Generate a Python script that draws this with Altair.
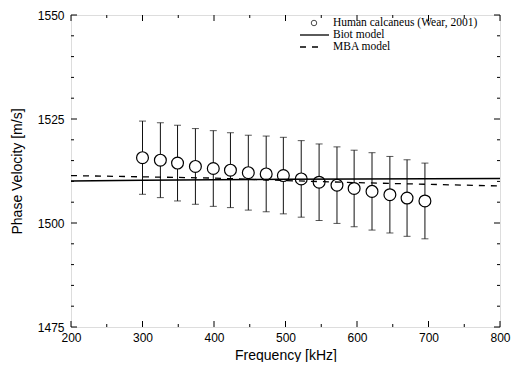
import altair as alt
import pandas as pd

# Measured data (Wear, 2001)
freq = [300, 325, 349, 374, 399, 423, 448, 473, 497, 522, 547, 572, 596, 621, 646, 670, 695]
velocity = [1515.7, 1515.1, 1514.4, 1513.6, 1513.1, 1512.7, 1512.1, 1511.8, 1511.4,
            1510.6, 1509.8, 1509.1, 1508.3, 1507.6, 1506.8, 1506.0, 1505.3]
err = [8.8, 9.0, 9.1, 9.1, 9.1, 9.0, 9.0, 9.1, 9.2, 9.2, 9.2, 9.2, 9.2, 9.3, 9.2, 9.2, 9.1]

# Model curves
model_freq = [200, 300, 400, 500, 600, 700, 800]
biot = [1510.1, 1510.25, 1510.4, 1510.5, 1510.6, 1510.65, 1510.7]
mba = [1511.4, 1511.1, 1510.8, 1510.2, 1509.7, 1509.3, 1508.9]

# Axis ticks
x_major = [200, 300, 400, 500, 600, 700, 800]
x_minor = [250, 350, 450, 550, 650, 750]
y_major = [1475, 1500, 1525, 1550]
y_minor = [1480, 1485, 1490, 1495, 1505, 1510, 1515, 1520, 1530, 1535, 1540, 1545]

legend_labels = ["Human calcaneus (Wear, 2001)", "Biot model", "MBA model"]

W, H = 429, 312

meas = pd.DataFrame({"f": freq, "v": velocity,
                     "lo": [v - e for v, e in zip(velocity, err)],
                     "hi": [v + e for v, e in zip(velocity, err)]})
models = pd.DataFrame({"f": model_freq, "biot": biot, "mba": mba})

xs = alt.Scale(domain=[200, 800], nice=False, zero=False)
ys = alt.Scale(domain=[1475, 1550], nice=False, zero=False)

xaxis = alt.Axis(values=x_major, ticks=False, domain=False, grid=False, format="d",
                 labelFlush=False, labelOverlap=False,
                 labelFont="Liberation Sans", labelFontSize=12, labelColor="black",
                 labelPadding=5, title="Frequency [kHz]", titleFont="Liberation Sans",
                 titleFontSize=14, titleFontWeight="normal", titleColor="black", titlePadding=5)
yaxis = alt.Axis(values=y_major, ticks=False, domain=False, grid=False, format="d",
                 labelFlush=False, labelOverlap=False,
                 labelFont="Liberation Sans", labelFontSize=12, labelColor="black",
                 labelPadding=7, title="Phase Velocity [m/s]", titleFont="Liberation Sans",
                 titleFontSize=14, titleFontWeight="normal", titleColor="black", titlePadding=13)

base = alt.Chart(meas)

bars = base.mark_rule(color="#111", strokeWidth=1).encode(
    x=alt.X("f:Q", scale=xs, axis=xaxis),
    y=alt.Y("lo:Q", scale=ys, axis=yaxis),
    y2="hi:Q")
caps_hi = base.mark_tick(color="#111", orient="horizontal", size=7, thickness=1).encode(
    x=alt.X("f:Q", scale=xs), y=alt.Y("hi:Q", scale=ys))
caps_lo = base.mark_tick(color="#111", orient="horizontal", size=7, thickness=1).encode(
    x=alt.X("f:Q", scale=xs), y=alt.Y("lo:Q", scale=ys))
pts = base.mark_point(shape="circle", size=140, filled=False, fill="white", fillOpacity=1,
                      stroke="black", strokeWidth=1.2).encode(
    x=alt.X("f:Q", scale=xs), y=alt.Y("v:Q", scale=ys))

biot_line = alt.Chart(models).mark_line(color="black", strokeWidth=1.5).encode(
    x=alt.X("f:Q", scale=xs), y=alt.Y("biot:Q", scale=ys))
mba_line = alt.Chart(models).mark_line(color="black", strokeWidth=1.3, strokeDash=[6, 6]).encode(
    x=alt.X("f:Q", scale=xs), y=alt.Y("mba:Q", scale=ys))

# inward ticks on all four sides
xmaj = pd.DataFrame({"t": x_major})
xmin = pd.DataFrame({"t": x_minor})
ymaj = pd.DataFrame({"t": y_major})
ymin = pd.DataFrame({"t": y_minor})

def xticks(df, L):
    b = alt.Chart(df).mark_rule(color="black", strokeWidth=1)
    return (b.encode(x=alt.X("t:Q", scale=xs), y=alt.value(H), y2=alt.value(H - L)) +
            b.encode(x=alt.X("t:Q", scale=xs), y=alt.value(0), y2=alt.value(L)))

def yticks(df, L):
    b = alt.Chart(df).mark_rule(color="black", strokeWidth=1)
    return (b.encode(y=alt.Y("t:Q", scale=ys), x=alt.value(0), x2=alt.value(L)) +
            b.encode(y=alt.Y("t:Q", scale=ys), x=alt.value(W), x2=alt.value(W - L)))

ticks = xticks(xmaj, 6) + xticks(xmin, 3) + yticks(ymaj, 6) + yticks(ymin, 3)

# legend
lx0, lx1, ltext, ly0, ldy = 229, 258, 262, 8, 12
leg_text = alt.Chart(pd.DataFrame({"label": legend_labels})).transform_window(
    row="row_number()").transform_calculate(py=f"{ly0} + (datum.row - 1) * {ldy}").mark_text(
    align="left", baseline="middle", font="Liberation Serif", fontSize=11.5, color="black").encode(
    x=alt.value(ltext), y=alt.Y("py:Q", scale=None), text="label:N")
leg_circle = alt.Chart(pd.DataFrame({"label": legend_labels[:1]})).mark_point(
    shape="circle", size=30, filled=False, stroke="black", strokeWidth=1).encode(
    x=alt.value(243), y=alt.value(ly0))
leg_solid = alt.Chart(pd.DataFrame({"label": legend_labels[1:2]})).mark_rule(
    color="black", strokeWidth=1.3).encode(
    x=alt.value(lx0), x2=alt.value(lx1), y=alt.value(ly0 + ldy))
leg_dash = alt.Chart(pd.DataFrame({"label": legend_labels[2:3]})).mark_rule(
    color="black", strokeWidth=1.3, strokeDash=[6, 6]).encode(
    x=alt.value(lx0), x2=alt.value(lx1 - 6), y=alt.value(ly0 + 2 * ldy))

chart = alt.layer(bars, caps_hi, caps_lo, pts, biot_line, mba_line, ticks,
                  leg_text, leg_circle, leg_solid, leg_dash).properties(
    width=W, height=H,
    autosize=alt.AutoSizeParams(type="none"),
    padding={"left": 63, "top": 7, "right": 11, "bottom": 35},
).configure_view(stroke="black", strokeWidth=1.2).configure(background="white")

chart.save("out.html", embed_options={"renderer": "svg", "actions": False})
